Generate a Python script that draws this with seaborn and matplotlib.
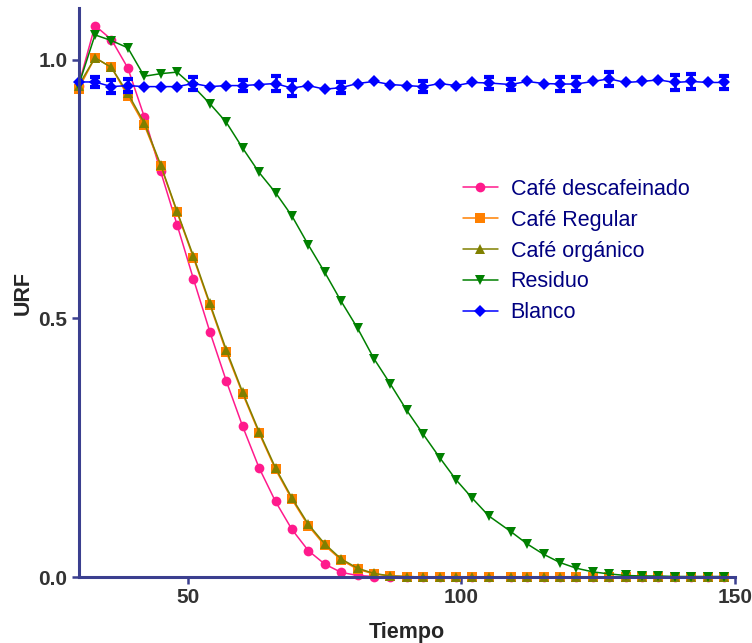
import matplotlib
matplotlib.use('Agg')
import matplotlib.pyplot as plt
import seaborn as sns

# tiempo (eje x)
tiempo = [30, 33, 36, 39, 42, 45, 48, 51, 54, 57, 60, 63, 66, 69, 72, 75, 78, 81, 84, 87,
          90, 93, 96, 99, 102, 105, 109, 112, 115, 118, 121, 124, 127, 130, 133, 136, 139, 142, 145, 148]

descafeinado = [0.950, 1.066, 1.039, 0.984, 0.890, 0.784, 0.681, 0.576, 0.474, 0.379,
                0.291, 0.211, 0.146, 0.092, 0.051, 0.025, 0.009, 0.003, 0.001, 0.0,
                0.0, 0.0, 0.0, 0.0, 0.0, 0.0, 0.0, 0.0, 0.0, 0.0,
                0.0, 0.0, 0.0, 0.0, 0.0, 0.0, 0.0, 0.0, 0.0, 0.0]
regular = [0.944, 1.004, 0.985, 0.930, 0.874, 0.795, 0.705, 0.617, 0.526, 0.435,
           0.354, 0.278, 0.208, 0.150, 0.099, 0.061, 0.033, 0.015, 0.006, 0.002,
           0.001, 0.0, 0.0, 0.0, 0.0, 0.0, 0.0, 0.0, 0.0, 0.0,
           0.0, 0.0, 0.0, 0.0, 0.0, 0.0, 0.0, 0.0, 0.0, 0.0]
organico = [0.950, 1.004, 0.985, 0.935, 0.878, 0.797, 0.707, 0.620, 0.529, 0.439,
            0.357, 0.281, 0.211, 0.153, 0.102, 0.064, 0.035, 0.017, 0.007, 0.002,
            0.001, 0.0, 0.0, 0.0, 0.0, 0.0, 0.0, 0.0, 0.0, 0.0,
            0.0, 0.0, 0.0, 0.0, 0.0, 0.0, 0.0, 0.0, 0.0, 0.0]
residuo = [0.950, 1.048, 1.037, 1.023, 0.968, 0.973, 0.976, 0.948, 0.915, 0.879,
           0.829, 0.782, 0.743, 0.698, 0.642, 0.589, 0.533, 0.481, 0.422, 0.373,
           0.322, 0.276, 0.231, 0.188, 0.152, 0.118, 0.088, 0.064, 0.044, 0.028,
           0.017, 0.010, 0.006, 0.003, 0.002, 0.002, 0.001, 0.001, 0.001, 0.001]
blanco = [0.957, 0.957, 0.948, 0.950, 0.948, 0.948, 0.948, 0.954, 0.948, 0.950,
          0.950, 0.952, 0.954, 0.945, 0.950, 0.943, 0.946, 0.954, 0.958, 0.952,
          0.950, 0.948, 0.954, 0.950, 0.956, 0.955, 0.952, 0.958, 0.954, 0.953,
          0.953, 0.958, 0.963, 0.956, 0.958, 0.961, 0.956, 0.958, 0.956, 0.956]
blanco_err = [0.0, 0.010, 0.012, 0.013, 0.0, 0.0, 0.0, 0.013, 0.0, 0.0,
              0.010, 0.0, 0.014, 0.016, 0.0, 0.0, 0.011, 0.0, 0.0, 0.0,
              0.0, 0.011, 0.0, 0.0, 0.0, 0.012, 0.010, 0.0, 0.0, 0.014,
              0.014, 0.0, 0.014, 0.0, 0.0, 0.0, 0.014, 0.014, 0.0, 0.012]

navy = '#3B3F8F'

sns.set_style('ticks')
plt.rcParams['font.family'] = ['Liberation Sans', 'DejaVu Sans']

fig = plt.figure(figsize=(7.52, 6.43), dpi=100)
ax = fig.add_axes([0.1045, 0.1026, 0.8729, 0.885])

series = [
    ('Café descafeinado', descafeinado, '#FF1A8C', 'o', 7),
    ('Café Regular', regular, '#FF8000', 's', 6.5),
    ('Café orgánico', organico, '#808000', '^', 7.5),
    ('Residuo', residuo, '#008000', 'v', 7.5),
    ('Blanco', blanco, '#0000FF', 'D', 6),
]
for name, vals, col, mk, ms in series:
    sns.lineplot(x=tiempo, y=vals, ax=ax, color=col, marker=mk, markersize=ms,
                 markeredgewidth=0, linewidth=1.1, label=name, sort=False,
                 clip_on=False, legend=False)

# barras de error del blanco
ex = [t for t, e in zip(tiempo, blanco_err) if e > 0]
ey = [b for b, e in zip(blanco, blanco_err) if e > 0]
ee = [e for e in blanco_err if e > 0]
ax.errorbar(ex, ey, yerr=ee, fmt='none', ecolor='#0000FF', elinewidth=2,
            capsize=3.8, capthick=3, zorder=5, clip_on=False)

ax.set_xlim(30, 150)
ax.set_ylim(0, 1.1)
ax.set_xticks([50, 100, 150])
ax.set_yticks([0.0, 0.5, 1.0])
ax.set_yticklabels(['0.0', '0.5', '1.0'])

sns.despine(ax=ax)
for s in ['left', 'bottom']:
    ax.spines[s].set_color(navy)
    ax.spines[s].set_linewidth(2.2)
ax.tick_params(axis='both', colors=navy, length=5, width=1.8, pad=3,
               labelsize=15, labelcolor='#333333')
for lab in ax.get_xticklabels() + ax.get_yticklabels():
    lab.set_fontweight('bold')

ax.set_xlabel('Tiempo', fontsize=15.5, fontweight='bold', labelpad=11)
ax.set_ylabel('URF', fontsize=15.5, fontweight='bold', labelpad=3)

handles, labels = ax.get_legend_handles_labels()
leg = ax.legend(handles, labels, loc='upper left', bbox_to_anchor=(0.616, 0.722),
                bbox_transform=fig.transFigure, frameon=False, fontsize=15.5,
                handlelength=1.6, handletextpad=0.6, labelspacing=0.46,
                borderpad=0, borderaxespad=0)
for t in leg.get_texts():
    t.set_color('#000080')

fig.savefig('out.png', dpi=100)
